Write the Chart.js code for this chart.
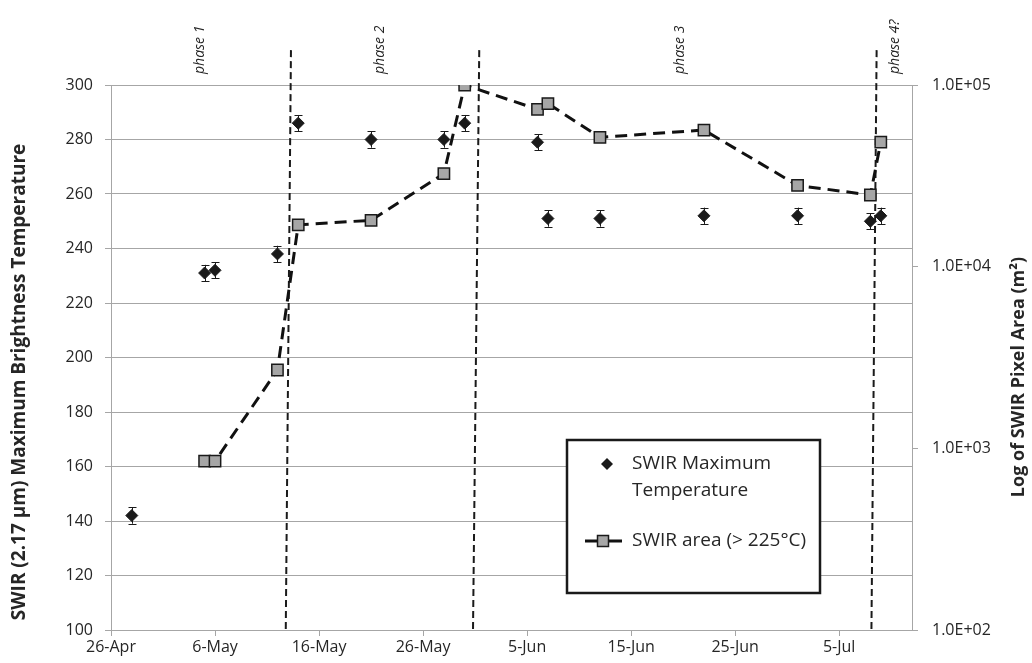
<!DOCTYPE html>
<html><head><meta charset="utf-8">
<script src="https://cdn.jsdelivr.net/npm/chart.js@4/dist/chart.umd.min.js"></script>
<style>html,body{margin:0;padding:0;background:#fff}#wrap{width:1032px;height:663px;position:relative}</style>
</head><body><div id="wrap"><canvas id="c" width="1032" height="663"></canvas></div>
<script>
// ---- data ----
const dayOffsets = [2, 9, 10, 16, 18, 25, 32, 34, 41, 42, 47, 57, 66, 73, 74]; // days after 26-Apr
const maxTemp    = [142, 231, 232, 238, 286, 280, 280, 286, 279, 251, 251, 252, 252, 250, 252];
const tempError  = [3, 3, 3, 3, 3, 3, 3, 3, 3, 3, 3, 3, 3, 3, 3];
const areaM2     = [null, 850, 850, 2700, 17000, 18000, 32500, 100000, 73500, 79000, 51500, 56500, 28000, 24800, 48500];
const xTickLabels = ['26-Apr', '6-May', '16-May', '26-May', '5-Jun', '15-Jun', '25-Jun', '5-Jul'];
const xTickStep = 10;
const xMaxDay = 77;
const leftMin = 100, leftMax = 300, leftStep = 20;
const rightTickValues = [100, 1000, 10000, 100000];
const rightTickLabels = ['1.0E+02', '1.0E+03', '1.0E+04', '1.0E+05'];
const phaseNames = ['phase 1', 'phase 2', 'phase 3', 'phase 4?'];
const phaseLabelDays = [8.6, 25.9, 54.7, 75.4];
const phaseBoundTop = [17.3, 35.4, 73.6];
const phaseBoundBottom = [16.8, 34.8, 73.1];
const phaseLineTopValue = 312.8;

const FONT = "'Open Sans', 'Liberation Sans', sans-serif";
const TXT = '#262626';
const GRID = '#a6a6a6';

Chart.defaults.font.family = FONT;
Chart.defaults.color = TXT;

const tempPts = dayOffsets.map((d, i) => ({x: d, y: maxTemp[i]}));
const areaPts = dayOffsets.map((d, i) => ({x: d, y: areaM2[i]})).filter(p => p.y !== null);

const phaseDatasets = phaseBoundTop.map((t, i) => ({
  type: 'line',
  data: [{x: t, y: phaseLineTopValue}, {x: phaseBoundBottom[i], y: leftMin}],
  yAxisID: 'y', xAxisID: 'x',
  borderColor: '#1a1a1a', borderWidth: 2, borderDash: [7, 4],
  pointRadius: 0, clip: false, fill: false
}));

const errorBars = {
  id: 'errorBars',
  beforeDatasetsDraw(chart) {
    const ctx = chart.ctx, xs = chart.scales.x, ys = chart.scales.y;
    ctx.save();
    ctx.strokeStyle = '#1a1a1a'; ctx.lineWidth = 1;
    dayOffsets.forEach((d, i) => {
      const x = Math.round(xs.getPixelForValue(d)) + 0.5;
      const y1 = ys.getPixelForValue(maxTemp[i] - tempError[i]);
      const y2 = ys.getPixelForValue(maxTemp[i] + tempError[i]);
      ctx.beginPath();
      ctx.moveTo(x, y1); ctx.lineTo(x, y2);
      ctx.moveTo(x - 4, Math.round(y1) + 0.5); ctx.lineTo(x + 4, Math.round(y1) + 0.5);
      ctx.moveTo(x - 4, Math.round(y2) + 0.5); ctx.lineTo(x + 4, Math.round(y2) + 0.5);
      ctx.stroke();
    });
    ctx.restore();
  }
};

const decorations = {
  id: 'decorations',
  afterDraw(chart) {
    const ctx = chart.ctx, xs = chart.scales.x;
    ctx.save();
    // phase labels
    ctx.fillStyle = TXT;
    ctx.font = 'italic 14px ' + FONT;
    ctx.textAlign = 'left'; ctx.textBaseline = 'middle';
    phaseNames.forEach((n, i) => {
      const x = xs.getPixelForValue(phaseLabelDays[i]);
      ctx.save();
      ctx.translate(x, 74);
      ctx.rotate(-Math.PI / 2);
      ctx.fillText(n, 0, 0);
      ctx.restore();
    });
    // axis titles
    ctx.font = 'bold 19px ' + FONT;
    ctx.textAlign = 'center';
    ctx.save(); ctx.translate(20, 382); ctx.rotate(-Math.PI / 2);
    ctx.fillText('SWIR (2.17 µm) Maximum Brightness Temperature', 0, 0); ctx.restore();
    ctx.font = 'bold 18px ' + FONT;
    ctx.save(); ctx.translate(1019, 377); ctx.rotate(-Math.PI / 2);
    ctx.fillText('Log of SWIR Pixel Area (m²)', 0, 0); ctx.restore();
    // legend
    const L = 567, T = 440, W = 253, H = 153;
    ctx.fillStyle = '#fff';
    ctx.fillRect(L, T, W, H);
    ctx.strokeStyle = '#1a1a1a'; ctx.lineWidth = 2.5;
    ctx.strokeRect(L, T, W, H);
    // diamond
    ctx.fillStyle = '#1a1a1a';
    ctx.beginPath();
    ctx.moveTo(607, 458); ctx.lineTo(613, 464); ctx.lineTo(607, 470); ctx.lineTo(601, 464); ctx.closePath();
    ctx.fill();
    // line sample
    ctx.strokeStyle = '#111'; ctx.lineWidth = 3;
    ctx.beginPath(); ctx.moveTo(585, 541); ctx.lineTo(622, 541); ctx.stroke();
    ctx.fillStyle = '#a6a6a6'; ctx.fillRect(597.5, 535.5, 11, 11);
    ctx.strokeStyle = '#1a1a1a'; ctx.lineWidth = 1.5; ctx.strokeRect(597.5, 535.5, 11, 11);
    ctx.fillStyle = TXT;
    ctx.font = '19px ' + FONT;
    ctx.textAlign = 'left'; ctx.textBaseline = 'middle';
    ctx.fillText('SWIR Maximum', 632, 464);
    ctx.fillText('Temperature', 632, 491);
    ctx.fillText('SWIR area (> 225°C)', 632, 541);
    ctx.restore();
  }
};

new Chart(document.getElementById('c'), {
  data: {
    datasets: [
      {
        type: 'line', label: 'SWIR area (> 225°C)', data: areaPts,
        yAxisID: 'y2', xAxisID: 'x',
        borderColor: '#111', borderWidth: 3, borderDash: [12, 7],
        pointStyle: 'rect', pointRadius: 8, pointBackgroundColor: '#a6a6a6',
        pointBorderColor: '#1a1a1a', pointBorderWidth: 1.5, tension: 0, fill: false
      },
      {
        type: 'line', label: 'SWIR Maximum Temperature', data: tempPts, showLine: false,
        yAxisID: 'y', xAxisID: 'x',
        pointStyle: 'rectRot', pointRadius: 6,
        pointBackgroundColor: '#1a1a1a', pointBorderColor: '#1a1a1a', pointBorderWidth: 1
      },
      ...phaseDatasets
    ]
  },
  options: {
    responsive: false, animation: false, devicePixelRatio: 1,
    layout: {padding: {top: 85, left: 0, right: 0, bottom: 0}},
    plugins: {legend: {display: false}, tooltip: {enabled: false}},
    scales: {
      x: {
        type: 'linear', position: 'bottom', min: 0, max: xMaxDay,
        afterBuildTicks: s => { s.ticks = xTickLabels.map((_, i) => ({value: i * xTickStep})); },
        ticks: {callback: (v, i) => xTickLabels[i], font: {size: 16}, padding: 2, maxRotation: 0, autoSkip: false, color: TXT},
        grid: {drawOnChartArea: false, drawTicks: true, tickLength: 6, color: GRID},
        border: {color: GRID},
        afterFit: s => { s.height = 33; }
      },
      y: {
        type: 'linear', position: 'left', min: leftMin, max: leftMax,
        ticks: {stepSize: leftStep, font: {size: 16}, padding: 12, color: TXT},
        grid: {color: GRID, tickLength: 6, lineWidth: 1},
        border: {color: GRID},
        afterFit: s => { s.width = 111; }
      },
      y2: {
        type: 'logarithmic', position: 'right', min: rightTickValues[0], max: rightTickValues[rightTickValues.length - 1],
        afterBuildTicks: s => { s.ticks = rightTickValues.map(v => ({value: v})); },
        ticks: {callback: (v, i) => rightTickLabels[i], font: {size: 16}, padding: 14, color: TXT, autoSkip: false},
        grid: {drawOnChartArea: false, tickLength: 6, color: GRID},
        border: {color: GRID},
        afterFit: s => { s.width = 120; }
      }
    }
  },
  plugins: [errorBars, decorations]
});
</script>
</body></html>
